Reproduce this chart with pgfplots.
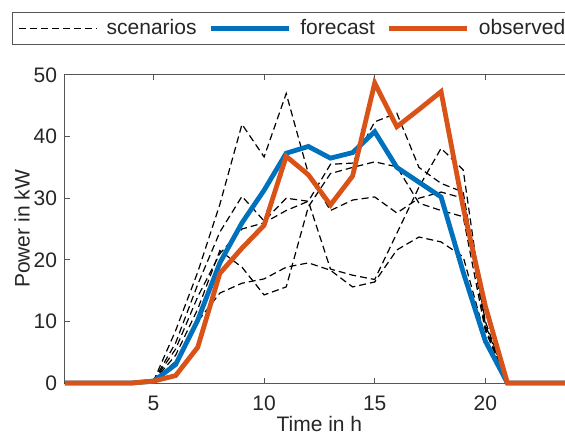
\documentclass[border=0pt]{standalone}
\usepackage{pgfplots}
\pgfplotsset{compat=1.18}
\usepackage{pgfplotstable}
\usepackage{fontspec}
\setmainfont{Liberation Sans}
\definecolor{mlblue}{HTML}{0072BD}
\definecolor{mlorange}{HTML}{D95319}
\definecolor{txt}{HTML}{262626}
\definecolor{axgray}{HTML}{555555}

% hourly power in kW: forecast, observed, five scenarios
\pgfplotstableread{
x  f    o    s1   s2   s3   s4   s5
1  0    0    0    0    0    0    0
2  0    0    0    0    0    0    0
3  0    0    0    0    0    0    0
4  0    0    0    0    0    0    0
5  0.3  0.3  0.3  0.3  0.3  0.3  0.3
6  3.0  1.2  8.5  6.5  4.5  3.5  5.5
7  10.2 5.8  18   16   12   10   14
8  19.5 17.8 29   24.5 21.5 14.6 21
9  26.0 21.9 42   30.3 18.8 16.2 25
10 31.3 25.6 36.7 26.3 14.3 16.9 26
11 37.3 36.8 47   30   15.6 18.8 28
12 38.4 33.8 34   29.5 28.6 19.5 29.5
13 36.5 28.9 28   35.5 34   18.3 18.5
14 37.4 33.6 29.7 35.7 35   15.6 17.5
15 40.8 48.7 30.2 42.4 35.9 16.4 16.8
16 35.0 41.6 27.6 43.8 35.1 21.6 24.3
17 32.6 44.4 30   35   29.2 23.7 31.8
18 30.2 47.3 31   32.4 28   22.9 38.1
19 18.0 28.5 30   31   27   20.5 34.6
20 6.8  12.5 9    10   8.5  7.5  9.5
21 0    0    0    0    0    0    0
22 0    0    0    0    0    0    0
23 0    0    0    0    0    0    0
24 0    0    0    0    0    0    0
}\power

\begin{document}
\begin{tikzpicture}
\begin{axis}[
  scale only axis,width=254.4pt,height=154pt,
  xmin=1,xmax=24,ymin=0,ymax=50,
  xtick={5,10,15,20},ytick={0,10,...,50},
  tick align=inside,xtick pos=both,ytick pos=both,major tick length=2.5pt,
  axis line style={draw=axgray,line width=0.5pt},tick style={draw=axgray,line width=0.5pt},
  clip=false,
  /pgf/number format/assume math mode=true,
  tick label style={font=\fontsize{10.5}{12}\selectfont,text=txt},
  xticklabel shift=3pt,yticklabel shift=0.5pt,
  xlabel={Time in h},ylabel={Power in kW},
  label style={font=\fontsize{10.5}{12}\selectfont,text=txt},
  xlabel style={at={(axis description cs:0.5,-0.133)},anchor=center},
  ylabel style={at={(axis description cs:-0.0845,0.5)},anchor=center},
  legend columns=3,legend cell align=left,
  legend style={at={(axis description cs:-0.1042,1.2045)},anchor=north west,
    draw=axgray,line width=0.5pt,font=\fontsize{10.5}{12}\selectfont,text=txt,
    inner xsep=3pt,inner ysep=1.5pt,
    /tikz/every odd column/.append style={column sep=2.5pt},
    /tikz/every even column/.append style={column sep=4pt}},
  legend image code/.code={\draw[#1] (0pt,0pt) -- (39pt,0pt);},
  every axis plot/.append style={line join=miter},
]
\addplot[black,line width=0.6pt,dash pattern=on 3.5pt off 2pt] table[x=x,y=s1] {\power};
\addlegendentry{scenarios}
\addplot[black,line width=0.6pt,dash pattern=on 3.5pt off 2pt,forget plot] table[x=x,y=s2] {\power};
\addplot[black,line width=0.6pt,dash pattern=on 3.5pt off 2pt,forget plot] table[x=x,y=s3] {\power};
\addplot[black,line width=0.6pt,dash pattern=on 3.5pt off 2pt,forget plot] table[x=x,y=s4] {\power};
\addplot[black,line width=0.6pt,dash pattern=on 3.5pt off 2pt,forget plot] table[x=x,y=s5] {\power};
\addplot[mlblue,line width=2.4pt] table[x=x,y=f] {\power};
\addlegendentry{forecast}
\addplot[mlorange,line width=2.4pt] table[x=x,y=o] {\power};
\addlegendentry{observed}
\end{axis}
\pgfresetboundingbox
\useasboundingbox (-32.5pt,-25pt) rectangle (250pt,191.5pt);
\end{tikzpicture}
\end{document}
